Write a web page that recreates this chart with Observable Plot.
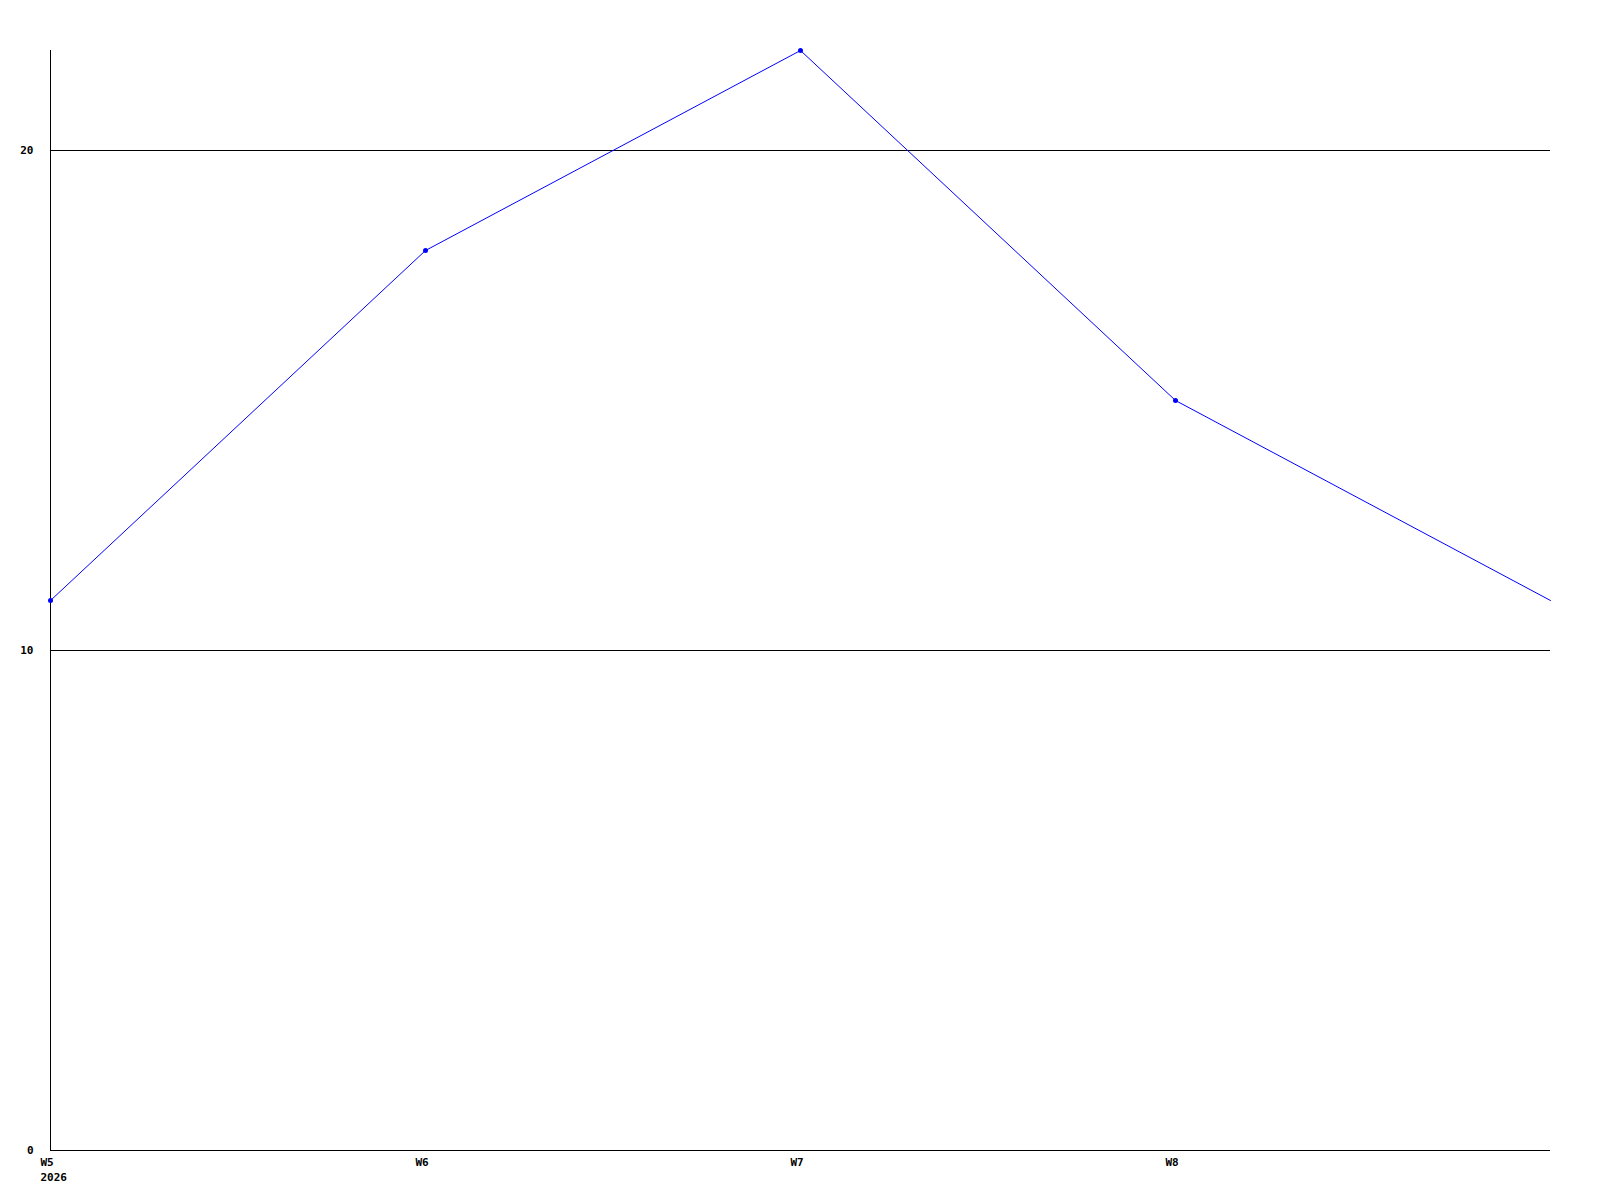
<!DOCTYPE html>
<html>
<head>
<meta charset="utf-8">
<script src="https://cdn.jsdelivr.net/npm/d3@7"></script>
<script src="https://cdn.jsdelivr.net/npm/@observablehq/plot@0.6"></script>
<style>
  html, body { margin: 0; padding: 0; background: #fff; }
  #chart svg { display: block; }
</style>
</head>
<body>
<div id="chart"></div>
<script>
const weeks = [5, 6, 7, 8, 9];
const values = [11, 18, 22, 15, 11];
const xTicks = [5, 6, 7, 8];
const xTickLabels = ["W5\n2026", "W6", "W7", "W8"];
const yTicks = [0, 10, 20];
const gridValues = [10, 20];

const data = weeks.map((w, i) => ({week: w, value: values[i]}));
const markerData = data.filter(d => xTicks.includes(d.week));

const chart = Plot.plot({
  width: 1600,
  height: 1200,
  marginLeft: 50,
  marginRight: 50,
  marginTop: 50,
  marginBottom: 50,
  style: {fontFamily: "'DejaVu Sans Mono', 'Liberation Mono', monospace", fontSize: "11px", fontWeight: "bold", color: "#000", background: "#fff"},
  x: {type: "linear", domain: [5, 9]},
  y: {domain: [0, 22]},
  marks: [
    Plot.ruleY(gridValues, {stroke: "#000", strokeWidth: 1}),
    Plot.ruleY([0], {stroke: "#000", strokeWidth: 1}),
    Plot.ruleX([5], {y1: 0, y2: 22, stroke: "#000", strokeWidth: 1}),
    Plot.line(data, {x: "week", y: "value", stroke: "#0000ff", strokeWidth: 1}),
    Plot.dot(markerData, {x: "week", y: "value", r: 2.5, fill: "#0000ff", stroke: "none"}),
    Plot.axisY({ticks: yTicks, tickSize: 0, tickPadding: 17, fill: "#000", label: null, fontWeight: "bold"}),
    Plot.axisX({ticks: xTicks, tickSize: 0, tickPadding: 5, textAnchor: "start", dx: -10, lineHeight: 1.35,
      tickFormat: (d) => xTickLabels[xTicks.indexOf(d)], fill: "#000", label: null, fontWeight: "bold"})
  ]
});
document.getElementById("chart").appendChild(chart);
</script>
</body>
</html>
